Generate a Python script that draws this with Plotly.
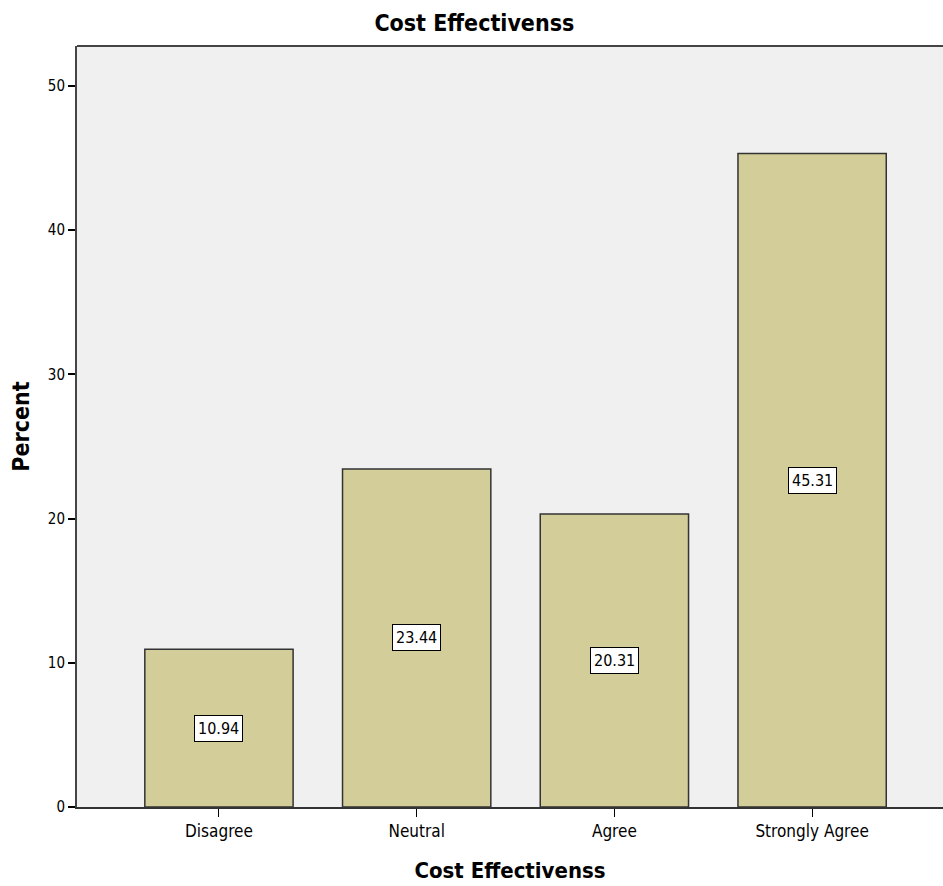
import plotly.graph_objects as go

# Survey responses for "Cost Effectivenss"
categories = ["Disagree", "Neutral", "Agree", "Strongly Agree"]
percent = [10.94, 23.44, 20.31, 45.31]
y_ticks = [0, 10, 20, 30, 40, 50]

narrow = "Liberation Sans Narrow, Arial Narrow, DejaVu Sans Condensed, sans-serif"

fig = go.Figure()
fig.add_trace(go.Bar(
    x=list(range(len(categories))),
    y=percent,
    width=0.75,
    marker=dict(color="#d3ce99", line=dict(color="#333333", width=1.5)),
    hoverinfo="skip",
))

# Value labels in white boxes, centred halfway up each bar
for i, v in enumerate(percent):
    fig.add_annotation(
        x=i, y=v / 2, text=f"{v:.2f}", showarrow=False,
        font=dict(family=narrow, size=16, color="black"),
        bgcolor="white", bordercolor="black", borderwidth=1, borderpad=3,
    )

# Top frame line of the plot area
fig.add_shape(type="line", xref="paper", yref="paper", x0=0, x1=1, y0=1, y1=1,
              line=dict(color="#444444", width=2))

fig.update_layout(
    width=943, height=886,
    margin=dict(l=77, r=0, t=46, b=79),
    paper_bgcolor="white",
    plot_bgcolor="#f0f0f0",
    showlegend=False,
    title=dict(text="<b>Cost Effectivenss</b>", x=0.503, xanchor="center",
               y=1 - 23 / 886, yanchor="middle", yref="container",
               font=dict(family=narrow, size=23, color="black")),
    xaxis=dict(
        range=[-0.718, 3.662],
        tickmode="array", tickvals=list(range(len(categories))), ticktext=categories,
        ticks="outside", ticklen=8, tickcolor="black", tickwidth=1,
        showline=True, linecolor="#333333", linewidth=2,
        showgrid=False, zeroline=False,
        tickfont=dict(family=narrow, size=17, color="black"),
        title=dict(text="<b>Cost Effectivenss</b>", standoff=22,
                   font=dict(family=narrow, size=22, color="black")),
    ),
    yaxis=dict(
        range=[0, 52.77],
        tickmode="array", tickvals=y_ticks,
        ticks="outside", ticklen=7, tickcolor="black", tickwidth=2,
        showline=True, linecolor="#444444", linewidth=2,
        showgrid=False, zeroline=False,
        tickfont=dict(family=narrow, size=15, color="black"),
        title=dict(text="<b>Percent</b>", standoff=12,
                   font=dict(family=narrow, size=23, color="black")),
    ),
)

fig.write_html("out.html")
